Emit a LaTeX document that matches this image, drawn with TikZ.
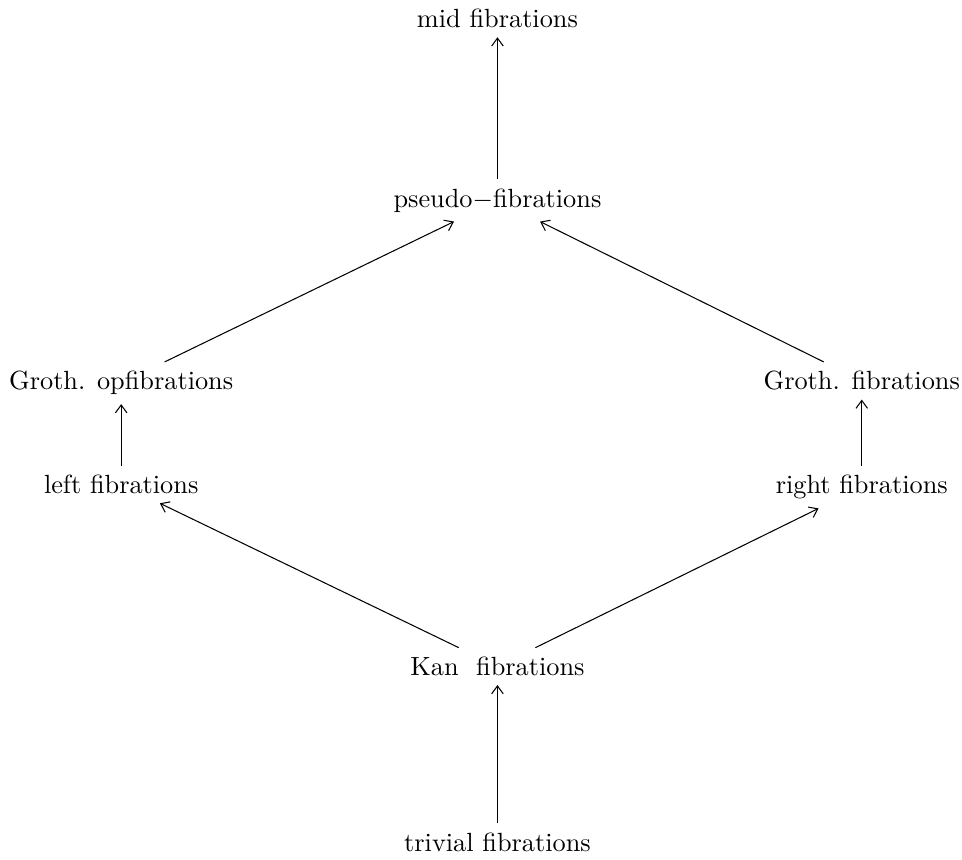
\documentclass[tikz,border=0pt]{standalone}
\usepackage{amsmath,amssymb}
\usepackage{tikz}
\usetikzlibrary{arrows,arrows.meta,positioning}

\begin{document}
\begin{tikzpicture}[x=1cm, y=1cm, >={Straight Barb[length=3pt,width=4.4pt]}]
    \useasboundingbox (0,0) rectangle (12.86,11.49);

    \node[anchor=base] (mid) at (6.65,11.12) {mid fibrations};
    \node[anchor=base] (pseudo) at (6.65,8.72) {pseudo$-$fibrations};
    \node[anchor=base] (opgroth) at (1.62,6.28) {Groth. opfibrations};
    \node[anchor=base] (groth) at (11.52,6.28) {Groth. fibrations};
    \node[anchor=base] (left) at (1.62,4.89) {left fibrations};
    \node[anchor=base] (right) at (11.52,4.89) {right fibrations};
    \node[anchor=base] (kan) at (6.65,2.46) {Kan\ \ fibrations};
    \node[anchor=base] (trivial) at (6.65,0.11) {trivial fibrations};

    \draw[->] (trivial) -- (kan);
    \draw[->] (kan) -- (left);
    \draw[->] (kan) -- (right);
    \draw[->] (left) -- (opgroth);
    \draw[->] (right) -- (groth);
    \draw[->] (opgroth) -- (pseudo);
    \draw[->] (groth) -- (pseudo);
    \draw[->] (pseudo) -- (mid);

\end{tikzpicture}
\end{document}
